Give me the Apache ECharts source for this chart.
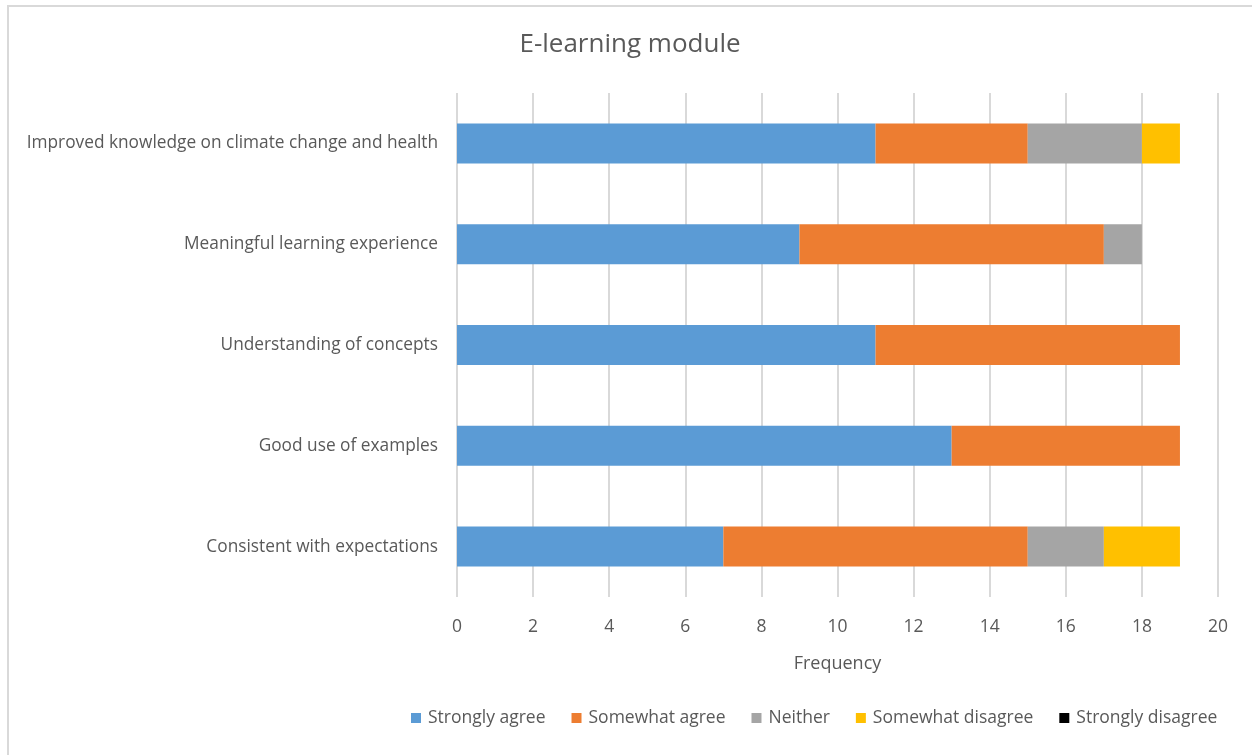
<!DOCTYPE html>
<html>
<head>
<meta charset="utf-8">
<script src="https://cdn.jsdelivr.net/npm/echarts@6/dist/echarts.min.js"></script>
<style>
  html, body { margin: 0; padding: 0; background: #fff; }
  #chart { width: 1252px; height: 755px; }
</style>
</head>
<body>
<div id="chart"></div>
<script>
  // categories bottom -> top (category axis starts at the bottom)
  var categories = [
    'Consistent with expectations',
    'Good use of examples',
    'Understanding of concepts',
    'Meaningful learning experience',
    'Improved knowledge on climate change and health'
  ];
  var stronglyAgree = [7, 13, 11, 9, 11];
  var somewhatAgree = [8, 6, 8, 8, 4];
  var neither = [2, 0, 0, 1, 3];
  var somewhatDisagree = [2, 0, 0, 0, 1];
  var stronglyDisagree = [0, 0, 0, 0, 0];
  var xTicks = [0, 2, 4, 6, 8, 10, 12, 14, 16, 18, 20];

  var font = '"Open Sans", Lato, sans-serif';
  var textColor = '#595959';

  function bar(name, data, color) {
    return {
      name: name,
      type: 'bar',
      stack: 'total',
      barWidth: 40,
      itemStyle: { color: color },
      data: data
    };
  }

  var chart = echarts.init(document.getElementById('chart'));
  chart.setOption({
    animation: false,
    textStyle: { fontFamily: font },
    title: {
      text: 'E-learning module',
      left: 625,
      textAlign: 'center',
      top: 27,
      textStyle: { fontFamily: font, fontSize: 26, fontWeight: 'normal', color: textColor }
    },
    graphic: [
      { type: 'line', shape: { x1: 7, y1: 6, x2: 1252, y2: 6 }, style: { stroke: '#d9d9d9', lineWidth: 2 } },
      { type: 'line', shape: { x1: 8, y1: 5, x2: 8, y2: 755 }, style: { stroke: '#d9d9d9', lineWidth: 2 } }
    ],
    legend: {
      left: 406,
      top: 704,
      itemWidth: 10,
      itemHeight: 10,
      itemGap: 26,
      icon: 'rect',
      textStyle: { fontFamily: font, fontSize: 17.5, color: textColor, padding: [0, 0, 0, 2] }
    },
    grid: { left: 457, right: 34, top: 93, bottom: 158 },
    xAxis: {
      type: 'value',
      min: 0,
      max: xTicks[xTicks.length - 1],
      interval: xTicks[1] - xTicks[0],
      name: 'Frequency',
      nameLocation: 'middle',
      nameGap: 58,
      nameTextStyle: { fontFamily: font, fontSize: 18, color: textColor },
      axisLine: { show: false },
      axisTick: { show: false },
      axisLabel: { fontFamily: font, fontSize: 17.5, color: textColor, margin: 21 },
      splitLine: { lineStyle: { color: '#d9d9d9', width: 2 } }
    },
    yAxis: {
      type: 'category',
      data: categories,
      axisLine: { show: false },
      axisTick: { show: false },
      axisLabel: { fontFamily: font, fontSize: 17.3, color: textColor, margin: 19 }
    },
    series: [
      bar('Strongly agree', stronglyAgree, '#5b9bd5'),
      bar('Somewhat agree', somewhatAgree, '#ed7d31'),
      bar('Neither', neither, '#a5a5a5'),
      bar('Somewhat disagree', somewhatDisagree, '#ffc000'),
      bar('Strongly disagree', stronglyDisagree, '#000000')
    ]
  });
</script>
</body>
</html>
